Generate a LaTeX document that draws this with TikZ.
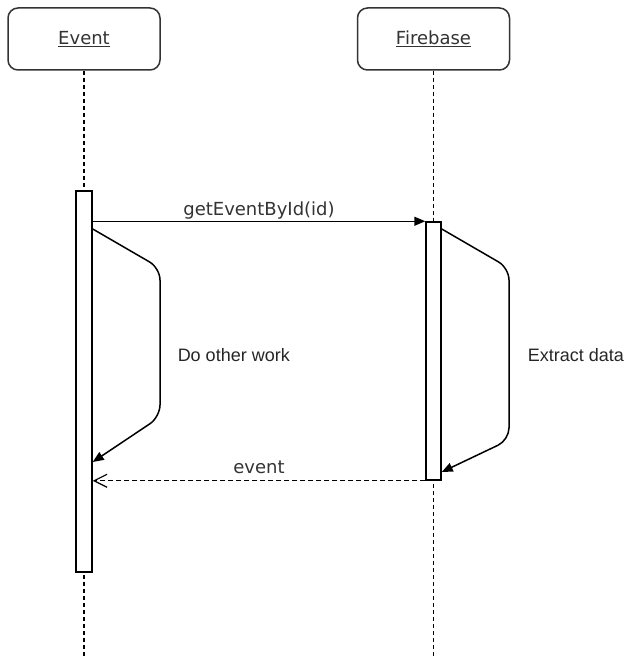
\documentclass[tikz,border=0pt]{standalone}
\usepackage{fontspec}
\setmainfont{Liberation Sans}
\newfontfamily\msgfont{DejaVu Sans}
\usetikzlibrary{arrows.meta}

\tikzset{
  actor/.style={draw=black!80, rounded corners=10pt, minimum width=152pt, minimum height=62pt, inner sep=0pt, font=\msgfont\fontsize{18}{20}\selectfont, text=black!80},
  activation/.style={draw, fill=white, minimum width=16pt, inner sep=0pt},
  lifeline/.style={dash pattern=on 4pt off 3pt, line width=1.2pt},
  msg/.style={-{Triangle[length=11pt,width=9pt]}},
  reply/.style={dash pattern=on 5pt off 3pt, line width=1.2pt, -{Straight Barb[length=13pt,width=13pt]}},
  msglabel/.style={font=\msgfont\fontsize{18}{20}\selectfont, text=black!80, inner sep=0pt, anchor=base},
  notelabel/.style={font=\fontsize{18}{20}\selectfont, text=black!85, inner sep=0pt, anchor=west}
}

\begin{document}
\begin{tikzpicture}[x=1pt,y=-1pt,line width=1.5pt]
\useasboundingbox (0,0) rectangle (624,658);

% participants
\node[actor] (event) at (84,39) {\underline{Event}};
\node[actor] (firebase) at (433.5,39) {\underline{Firebase}};

% lifelines
\coordinate (eventend) at (84,658);
\coordinate (firebaseend) at (433.5,658);
\draw[lifeline] (event.south) -- (eventend);
\draw[lifeline] (firebase.south) -- (firebaseend);

% activations
\node[activation, minimum height=381pt] (eventact) at (84,381.5) {};
\node[activation, minimum width=15pt, minimum height=258pt] (firebaseact) at (433.5,351) {};

% call
\draw[msg] (eventact.east |- firebaseact.north west) -- (firebaseact.north west)
  node[msglabel, midway, yshift=6pt] (call) {getEventById(id)};

% self work
\draw[msg, rounded corners=12pt] (eventact.east |- 0,229) -- (160,268) -- (160,417) -- (eventact.east |- 0,462);
\node[notelabel] (work) at (177,355) {Do other work};

\draw[msg, rounded corners=12pt] (firebaseact.east |- 0,229) -- (509,268) -- (509,440) -- (firebaseact.east |- 0,472);
\node[notelabel] (extract) at (527,355) {Extract data};

% return
\draw[reply] (firebaseact.south west) -- (eventact.east |- firebaseact.south west)
  node[msglabel, midway, yshift=7pt] (ret) {event};

\end{tikzpicture}
\end{document}
